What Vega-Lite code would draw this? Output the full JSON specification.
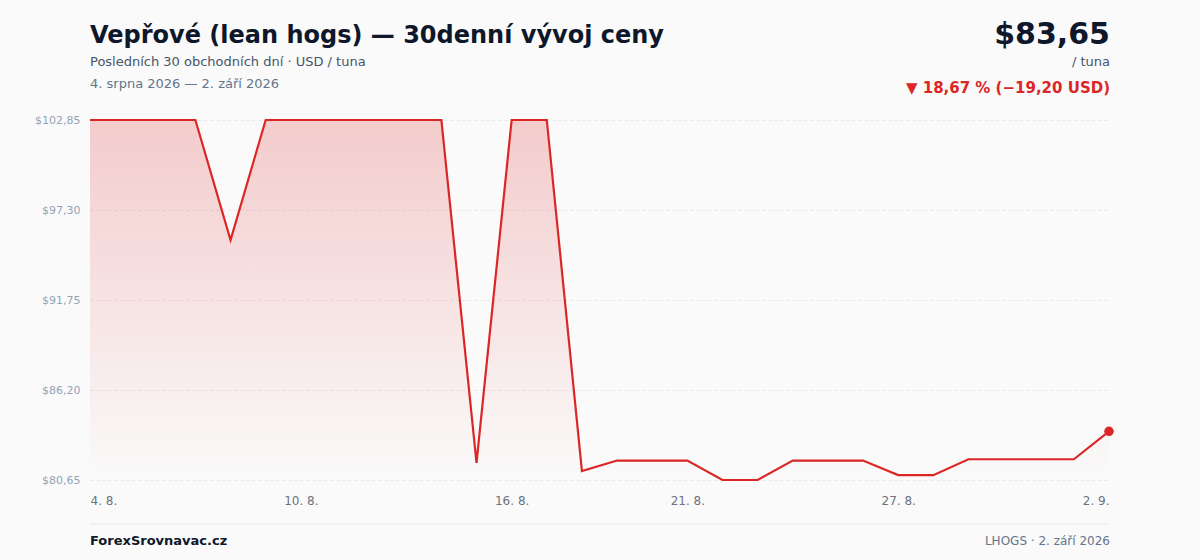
{
  "$schema": "https://vega.github.io/schema/vega-lite/v6.json",
  "width": 1019,
  "height": 360,
  "autosize": {"type": "none"},
  "padding": {"left": 90, "top": 120, "right": 91, "bottom": 80},
  "background": "#fafafa",
  "config": {
    "view": {"stroke": null},
    "font": "DejaVu Sans"
  },
  "datasets": {
    "prices": [
      {"date": "2026-08-04", "price": 102.85},
      {"date": "2026-08-05", "price": 102.85},
      {"date": "2026-08-06", "price": 102.85},
      {"date": "2026-08-07", "price": 102.85},
      {"date": "2026-08-08", "price": 95.45},
      {"date": "2026-08-09", "price": 102.85},
      {"date": "2026-08-10", "price": 102.85},
      {"date": "2026-08-11", "price": 102.85},
      {"date": "2026-08-12", "price": 102.85},
      {"date": "2026-08-13", "price": 102.85},
      {"date": "2026-08-14", "price": 102.85},
      {"date": "2026-08-15", "price": 81.7},
      {"date": "2026-08-16", "price": 102.85},
      {"date": "2026-08-17", "price": 102.85},
      {"date": "2026-08-18", "price": 81.2},
      {"date": "2026-08-19", "price": 81.85},
      {"date": "2026-08-20", "price": 81.85},
      {"date": "2026-08-21", "price": 81.85},
      {"date": "2026-08-22", "price": 80.65},
      {"date": "2026-08-23", "price": 80.65},
      {"date": "2026-08-24", "price": 81.85},
      {"date": "2026-08-25", "price": 81.85},
      {"date": "2026-08-26", "price": 81.85},
      {"date": "2026-08-27", "price": 80.95},
      {"date": "2026-08-28", "price": 80.95},
      {"date": "2026-08-29", "price": 81.93},
      {"date": "2026-08-30", "price": 81.93},
      {"date": "2026-08-31", "price": 81.93},
      {"date": "2026-09-01", "price": 81.93},
      {"date": "2026-09-02", "price": 83.65}
    ],
    "last": [
      {"date": "2026-09-02", "price": 83.65, "priceText": "$83,65", "unit": "/ tuna", "change": "▼ 18,67 % (−19,20 USD)", "source": "LHOGS · 2. září 2026"}
    ],
    "first": [
      {"date": "2026-08-04", "title": "Vepřové (lean hogs) — 30denní vývoj ceny", "subtitle": "Posledních 30 obchodních dní · USD / tuna", "range": "4. srpna 2026 — 2. září 2026", "brand": "ForexSrovnavac.cz"}
    ]
  },
  "encoding": {
    "x": {
      "field": "date",
      "type": "temporal",
      "title": null,
      "scale": {
        "type": "utc",
        "nice": false,
        "domain": [
          {"year": 2026, "month": 8, "date": 4, "utc": true},
          {"year": 2026, "month": 9, "date": 2, "utc": true}
        ]
      },
      "axis": {
        "values": [
          {"year": 2026, "month": 8, "date": 4, "utc": true},
          {"year": 2026, "month": 8, "date": 10, "utc": true},
          {"year": 2026, "month": 8, "date": 16, "utc": true},
          {"year": 2026, "month": 8, "date": 21, "utc": true},
          {"year": 2026, "month": 8, "date": 27, "utc": true},
          {"year": 2026, "month": 9, "date": 2, "utc": true}
        ],
        "labelExpr": "utcFormat(datum.value, '%-d. %-m.')",
        "labelFlush": true,
        "labelColor": "#6b7280",
        "labelFontSize": 12,
        "labelPadding": 15,
        "domain": false,
        "ticks": false,
        "grid": false
      }
    }
  },
  "layer": [
    {
      "data": {"name": "prices"},
      "mark": {
        "type": "area",
        "interpolate": "linear",
        "color": {
          "gradient": "linear",
          "x1": 0, "y1": 0, "x2": 0, "y2": 1,
          "stops": [
            {"offset": 0, "color": "rgba(220,38,38,0.22)"},
            {"offset": 1, "color": "rgba(220,38,38,0.0)"}
          ]
        }
      },
      "encoding": {
        "y": {
          "field": "price",
          "type": "quantitative",
          "title": null,
          "scale": {"domain": [80.65, 102.85], "zero": false, "nice": false},
          "axis": {
            "values": [80.65, 86.2, 91.75, 97.3, 102.85],
            "labelExpr": "'$' + replace(format(datum.value, '.2f'), '.', ',')",
            "labelColor": "#94a3b8",
            "labelFontSize": 11,
            "labelPadding": 10,
            "domain": false,
            "ticks": false,
            "gridColor": "#e5e7eb",
            "gridDash": [3, 3],
            "gridWidth": 1
          }
        },
        "y2": {"datum": 80.65}
      }
    },
    {
      "data": {"name": "prices"},
      "mark": {"type": "line", "color": "#dc2626", "strokeWidth": 2.2},
      "encoding": {"y": {"field": "price", "type": "quantitative"}}
    },
    {
      "data": {"name": "last"},
      "mark": {"type": "point", "filled": true, "color": "#dc2626", "size": 90, "opacity": 1},
      "encoding": {"y": {"field": "price", "type": "quantitative"}}
    },
    {
      "data": {"name": "first"},
      "mark": {"type": "text", "align": "left", "baseline": "alphabetic", "fontSize": 24, "fontWeight": "bold", "color": "#0f172a"},
      "encoding": {"text": {"field": "title"}, "y": {"value": -77}}
    },
    {
      "data": {"name": "first"},
      "mark": {"type": "text", "align": "left", "baseline": "middle", "fontSize": 13, "color": "#475569"},
      "encoding": {"text": {"field": "subtitle"}, "y": {"value": -58}}
    },
    {
      "data": {"name": "first"},
      "mark": {"type": "text", "align": "left", "baseline": "middle", "fontSize": 13, "color": "#64748b"},
      "encoding": {"text": {"field": "range"}, "y": {"value": -36}}
    },
    {
      "data": {"name": "last"},
      "mark": {"type": "text", "align": "right", "baseline": "alphabetic", "fontSize": 30, "fontWeight": "bold", "color": "#0f172a", "dx": 1},
      "encoding": {"text": {"field": "priceText"}, "y": {"value": -76}}
    },
    {
      "data": {"name": "last"},
      "mark": {"type": "text", "align": "right", "baseline": "middle", "fontSize": 13, "color": "#475569", "dx": 1},
      "encoding": {"text": {"field": "unit"}, "y": {"value": -58}}
    },
    {
      "data": {"name": "last"},
      "mark": {"type": "text", "align": "right", "baseline": "middle", "fontSize": 15, "fontWeight": "bold", "color": "#dc2626", "dx": 1},
      "encoding": {"text": {"field": "change"}, "y": {"value": -32}}
    },
    {
      "data": {"name": "last"},
      "mark": {"type": "rule", "color": "#e5e7eb", "strokeWidth": 1},
      "encoding": {
        "x": {"datum": {"year": 2026, "month": 8, "date": 4, "utc": true}},
        "x2": {"datum": {"year": 2026, "month": 9, "date": 2, "utc": true}},
        "y": {"value": 404}
      }
    },
    {
      "data": {"name": "last"},
      "mark": {"type": "text", "align": "right", "baseline": "middle", "fontSize": 12, "color": "#64748b", "dx": 1},
      "encoding": {"text": {"field": "source"}, "y": {"value": 421}}
    },
    {
      "data": {"name": "first"},
      "mark": {"type": "text", "align": "left", "baseline": "middle", "fontSize": 13, "fontWeight": "bold", "color": "#0f172a"},
      "encoding": {"text": {"field": "brand"}, "y": {"value": 421}}
    }
  ]
}
